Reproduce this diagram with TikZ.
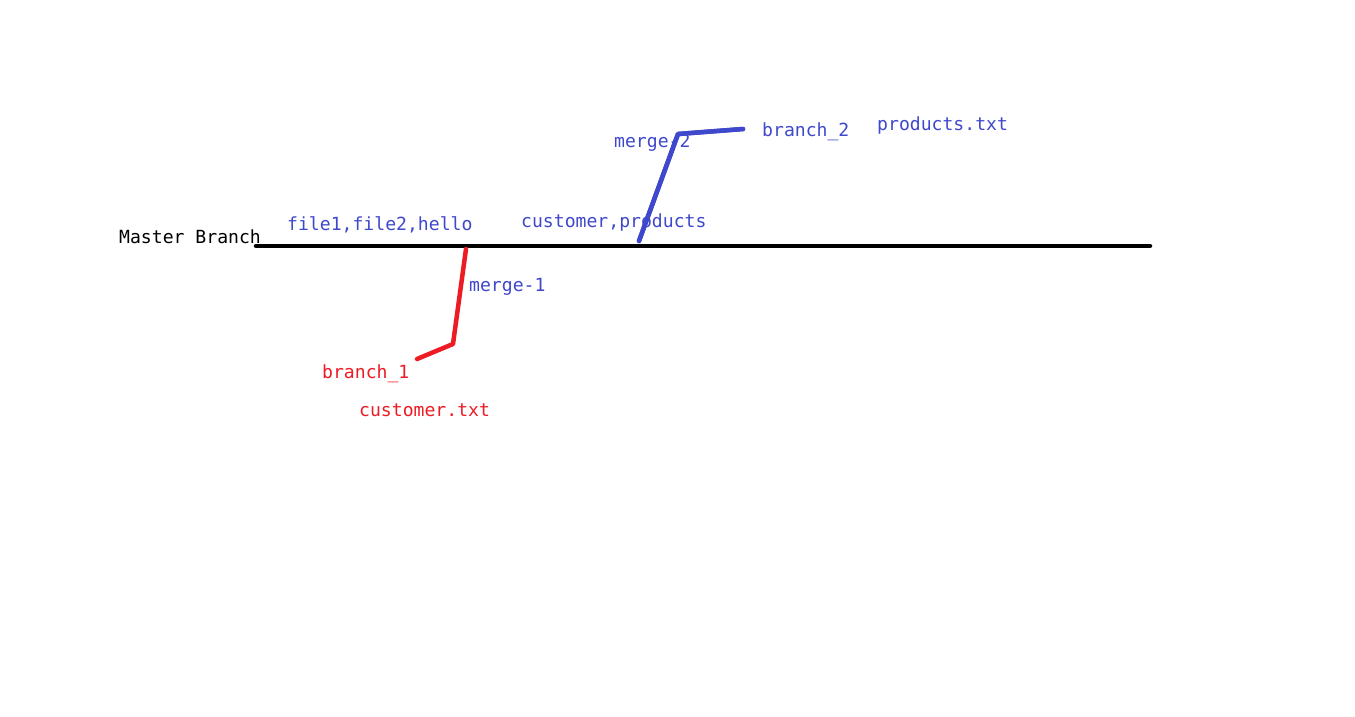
\documentclass[tikz,border=0pt]{standalone}
\usepackage{fontspec}
\setmonofont{DejaVu Sans Mono}
\definecolor{pblue}{RGB}{63,72,204}
\definecolor{pred}{RGB}{237,28,36}
\begin{document}
\begin{tikzpicture}[x=1pt,y=-1pt,
  lbl/.style={anchor=base west,inner sep=0pt,font=\ttfamily\fontsize{18.1}{20}\selectfont},
  stroke/.style={line width=4.5pt,line cap=round,line join=round}]
\useasboundingbox[fill=white] (0,0) rectangle (1355,716);
% coordinates
\coordinate (m0) at (256,246);
\coordinate (m1) at (1150,246);
\coordinate (r0) at (466,249);
\coordinate (r1) at (453,344);
\coordinate (r2) at (417,359);
\coordinate (b0) at (639,241);
\coordinate (b1) at (678,134);
\coordinate (b2) at (743,129);
% lines
\draw[stroke,black] (m0) -- (m1);
\draw[stroke,pred] (r0) -- (r1) -- (r2);
\draw[stroke,pblue] (b0) -- (b1) -- (b2);
% labels
\node[lbl,black] (master) at (119,243) {Master Branch};
\node[lbl,pblue] (files) at (287,230) {file1,file2,hello};
\node[lbl,pblue] (custprod) at (521,227) {customer,products};
\node[lbl,pblue] (merge1) at (469,291) {merge-1};
\node[lbl,pred] (branch1) at (322,378) {branch\_1};
\node[lbl,pred] (custtxt) at (359,416) {customer.txt};
\node[lbl,pblue] (merge2) at (614,147) {merge-2};
\node[lbl,pblue] (branch2) at (762,136) {branch\_2};
\node[lbl,pblue] (prodtxt) at (877,130) {products.txt};
% redraw blue branch over merge-2 text as in reference
\draw[stroke,pblue] (b0) -- (b1) -- (b2);
\end{tikzpicture}
\end{document}
